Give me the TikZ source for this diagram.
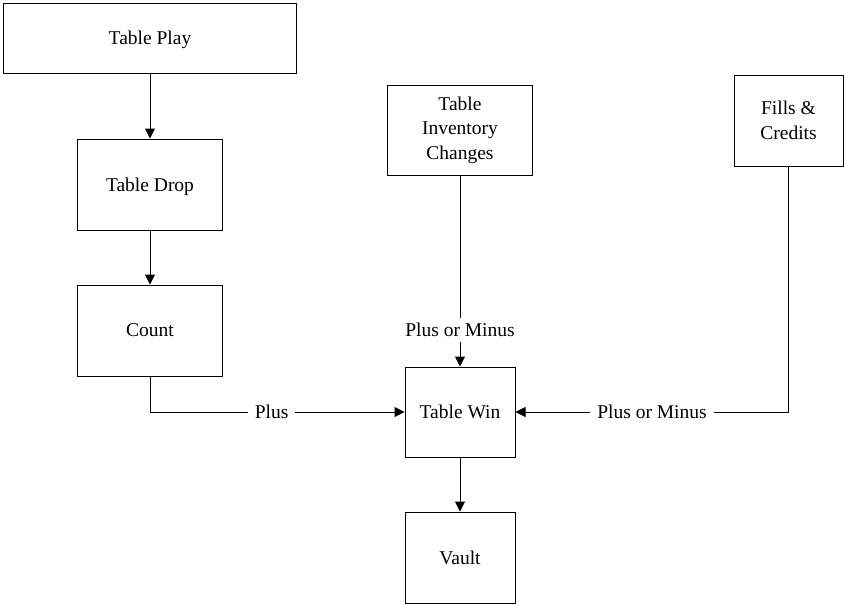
\documentclass[tikz,border=0pt]{standalone}
\usepackage{fontspec}
\setmainfont{Liberation Serif}
\usetikzlibrary{arrows.meta}
\begin{document}
\begin{tikzpicture}[x=1pt,y=-1pt,
  font=\fontsize{19.5}{24.5}\selectfont,
  box/.style={draw, line width=1pt, inner sep=0pt, align=center},
  onerow/.style={text depth=0pt},
  flow/.style={line width=1pt, -{Triangle[length=10pt,width=10pt]}},
  line/.style={line width=1pt},
  tag/.style={fill=white, inner xsep=7pt, inner ysep=5pt}]
\useasboundingbox (0,0) rectangle (844,605);
% process boxes
\node[box, onerow, minimum width=293pt, minimum height=70pt] (play) at (150,38) {Table Play};
\node[box, onerow, minimum width=145pt, minimum height=91pt] (drop) at (150,184.5) {Table Drop};
\node[box, onerow, minimum width=145pt, minimum height=91pt] (count) at (150,330.5) {Count};
\node[box, minimum width=145pt, minimum height=90pt] (inv) at (460,130) {Table\\Inventory\\Changes};
\node[box, minimum width=109pt, minimum height=91pt] (fills) at (788.5,120.5) {Fills \&\\Credits};
\node[box, onerow, minimum width=110pt, minimum height=90pt] (win) at (460,412) {Table Win};
\node[box, onerow, minimum width=110pt, minimum height=91pt] (vault) at (460,557.5) {Vault};
% corner points of the elbow connectors
\coordinate (c1) at (count.south |- win.west);
\coordinate (c2) at (fills.south |- win.east);
% connectors
\draw[flow] (play.south) -- (drop.north);
\draw[flow] (drop.south) -- (count.north);
\draw[line] (count.south) -- (c1);
\draw[flow] (c1) -- node[tag, pos=0.478] {Plus} (win.west);
\draw[flow] (inv.south) -- node[tag, pos=0.807] {Plus or Minus} (win.north);
\draw[line] (fills.south) -- (c2);
\draw[flow] (c2) -- node[tag, pos=0.5] {Plus or Minus} (win.east);
\draw[flow] (win.south) -- (vault.north);
\end{tikzpicture}
\end{document}
